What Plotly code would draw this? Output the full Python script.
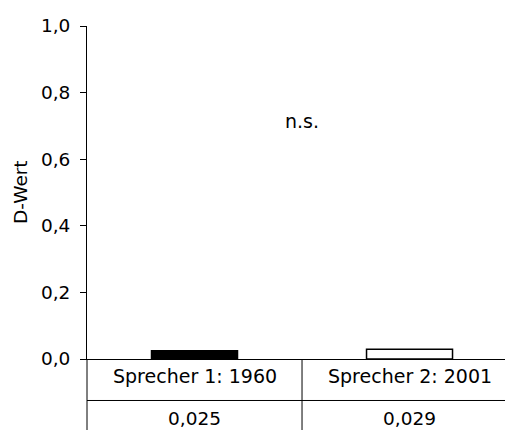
import plotly.graph_objects as go

categories = ["Sprecher 1: 1960", "Sprecher 2: 2001"]
d_values = [0.025, 0.029]
bar_fills = ["black", "white"]
annotation_text = "n.s."
y_title = "D-Wert"
y_ticks = [0.0, 0.2, 0.4, 0.6, 0.8, 1.0]

FONT = "DejaVu Sans"
FS = 18.5
FS_TABLE = 19

fig = go.Figure()
fig.add_trace(go.Bar(
    x=categories, y=d_values, width=0.4,
    marker=dict(color=bar_fills, line=dict(color="black", width=1.5)),
    showlegend=False, hoverinfo="skip",
))

fig.update_layout(
    width=505, height=430,
    margin=dict(l=87, r=0, t=26, b=71, pad=0),
    paper_bgcolor="white", plot_bgcolor="white",
    separators=",.",
    font=dict(family=FONT, size=FS, color="black"),
    xaxis=dict(type="category", range=[-0.5, 1.444], showticklabels=False,
               ticks="", showline=True, linecolor="black", linewidth=1,
               showgrid=False, zeroline=False, fixedrange=True),
    yaxis=dict(range=[0, 1], tickvals=y_ticks, tickformat=".1f",
               ticks="outside", ticklen=6, tickcolor="black", tickwidth=1,
               ticklabelstandoff=6,
               showline=True, linecolor="black", linewidth=1,
               showgrid=False, zeroline=False,
               tickfont=dict(family=FONT, size=FS, color="black")),
)

# y-axis title
fig.add_annotation(text=y_title, xref="paper", yref="paper",
                   x=(20.5 - 87) / 418, y=0.5, textangle=-90,
                   showarrow=False, xanchor="center", yanchor="middle",
                   font=dict(family=FONT, size=FS, color="black"))

# significance label
fig.add_annotation(text=annotation_text, xref="x", yref="y",
                   x=0.5, y=0.715, showarrow=False,
                   xanchor="center", yanchor="middle",
                   font=dict(family=FONT, size=FS_TABLE, color="black"))

# table below the axis
line = dict(color="black", width=1)
fig.add_shape(type="line", xref="paper", yref="paper",
              x0=0, x1=1, y0=-0.1246, y1=-0.1246, line=line)
fig.add_shape(type="line", xref="paper", yref="paper",
              x0=0, x1=0, y0=0, y1=-0.25, line=line)
fig.add_shape(type="line", xref="x", yref="paper",
              x0=0.5, x1=0.5, y0=0, y1=-0.25, line=line)

for cat, v in zip(categories, d_values):
    fig.add_annotation(text=cat, xref="x", yref="paper", x=cat, y=-0.051,
                       showarrow=False, xanchor="center", yanchor="middle",
                       font=dict(family=FONT, size=FS_TABLE, color="black"))
    fig.add_annotation(text=f"{v:.3f}".replace(".", ","), xref="x", yref="paper",
                       x=cat, y=-0.180,
                       showarrow=False, xanchor="center", yanchor="middle",
                       font=dict(family=FONT, size=FS, color="black"))

fig.write_html("out.html", config={"displayModeBar": False})
